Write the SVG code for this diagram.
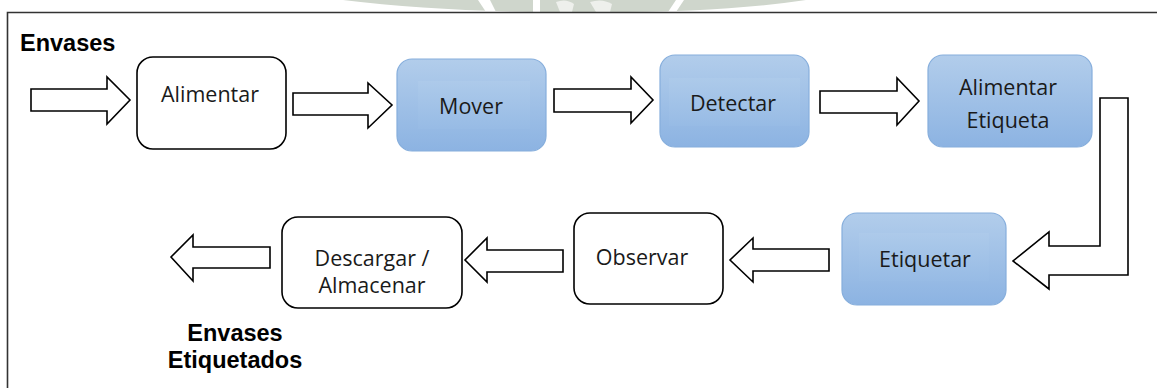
<svg xmlns="http://www.w3.org/2000/svg" width="1157" height="388" viewBox="0 0 1157 388">
  <style>
    .box { fill: #ffffff; stroke: #000000; stroke-width: 1.6; }
    .blue { fill: url(#blueFill); stroke: #86aedc; stroke-width: 1.2; }
    .inner { fill: url(#innerFill); }
    .arrow { fill: #ffffff; stroke: #000000; stroke-width: 1.6; stroke-linejoin: miter; }
    .label { font-family: "Open Sans", "Liberation Sans", sans-serif; font-size: 21.5px; fill: #1a1a1a; text-anchor: middle; }
    .title { font-family: "Liberation Sans", Arial, sans-serif; font-size: 23.5px; font-weight: bold; fill: #000000; }
    .frame { fill: none; stroke: #333333; stroke-width: 1.6; }
  </style>
  <defs>
    <linearGradient id="blueFill" x1="0" y1="0" x2="0" y2="1">
      <stop offset="0" stop-color="#b2cdeb"/>
      <stop offset="1" stop-color="#8cb3e2"/>
    </linearGradient>
    <linearGradient id="innerFill" x1="0" y1="0" x2="0" y2="1">
      <stop offset="0" stop-color="#adcaea"/>
      <stop offset="1" stop-color="#97bbe5"/>
    </linearGradient>
  </defs>

  <rect x="0" y="0" width="1157" height="388" fill="#ffffff"/>

  <!-- faint seal band above the frame -->
  <g id="seal">
    <path d="M343,0 Q450,13 585,12 Q720,13 806,0 Z" fill="#cfd6cc"/>
    <path d="M478,0 L490,0 L496,12 L486,12 Z" fill="#ffffff"/>
    <path d="M533,0 L540,0 L540,12 L533,12 Z" fill="#ffffff"/>
    <path d="M556,2 Q566,-2 574,4 L572,12 L560,12 Z" fill="#eef0ec"/>
    <path d="M590,2 Q602,-2 612,4 L610,12 L596,12 Z" fill="#eef0ec"/>
    <path d="M668,12 L676,0 L684,0 L676,12 Z" fill="#ffffff"/>
  </g>

  <!-- page frame -->
  <path class="frame" d="M7.5,388 L7.5,12.5 L1157,12.5"/>

  <g id="label-in">
    <text class="title" x="20" y="51">Envases</text>
  </g>
  <g id="label-out">
    <text class="title" x="235" y="341" text-anchor="middle">Envases</text>
    <text class="title" x="235" y="368" text-anchor="middle">Etiquetados</text>
  </g>

  <g id="alimentar">
    <rect class="box" x="137" y="57" width="149" height="92" rx="16"/>
    <text class="label" x="210" y="102">Alimentar</text>
  </g>

  <g id="mover">
    <rect class="blue" x="397" y="59" width="149" height="92" rx="15"/>
    <rect class="inner" x="418" y="81" width="112" height="48"/>
    <text class="label" x="471" y="114">Mover</text>
  </g>

  <g id="detectar">
    <rect class="blue" x="660" y="55" width="149" height="92" rx="15"/>
    <rect class="inner" x="669" y="78" width="131" height="48"/>
    <text class="label" x="733" y="111">Detectar</text>
  </g>

  <g id="alimentar-etiqueta">
    <rect class="blue" x="928" y="55" width="164" height="92" rx="15"/>
    <text class="label" x="1008" y="95">Alimentar</text>
    <text class="label" x="1008" y="128">Etiqueta</text>
  </g>

  <g id="etiquetar">
    <rect class="blue" x="842" y="213" width="164" height="92" rx="15"/>
    <rect class="inner" x="859" y="233" width="130" height="48"/>
    <text class="label" x="925" y="267">Etiquetar</text>
  </g>

  <g id="observar">
    <rect class="box" x="574" y="213" width="149" height="91" rx="16"/>
    <text class="label" x="642" y="265">Observar</text>
  </g>

  <g id="descargar">
    <rect class="box" x="282" y="217" width="180" height="91" rx="16"/>
    <text class="label" x="372" y="266">Descargar /</text>
    <text class="label" x="372" y="293">Almacenar</text>
  </g>

  <g id="connectors">
    <polygon class="arrow" points="31,89 107,89 107,77 130,100 107,124 107,111 31,111"/>
    <polygon class="arrow" points="293,93 368,93 368,83 392,105 368,128 368,115 293,115"/>
    <polygon class="arrow" points="554,89 631,89 631,77 653,100 631,123 631,112 554,112"/>
    <polygon class="arrow" points="820,91 897,91 897,78 919,101 897,125 897,113 820,113"/>
    <polygon class="arrow" points="1100,98 1128,98 1128,275 1049,275 1049,289 1013,261 1049,232 1049,246 1100,246"/>
    <polygon class="arrow" points="829,249 753,249 753,238 730,260 753,282 753,271 829,271"/>
    <polygon class="arrow" points="563,250 487,250 487,238 465,260 487,282 487,272 563,272"/>
    <polygon class="arrow" points="270,247 193,247 193,235 171,257 193,281 193,268 270,268"/>
  </g>
</svg>
